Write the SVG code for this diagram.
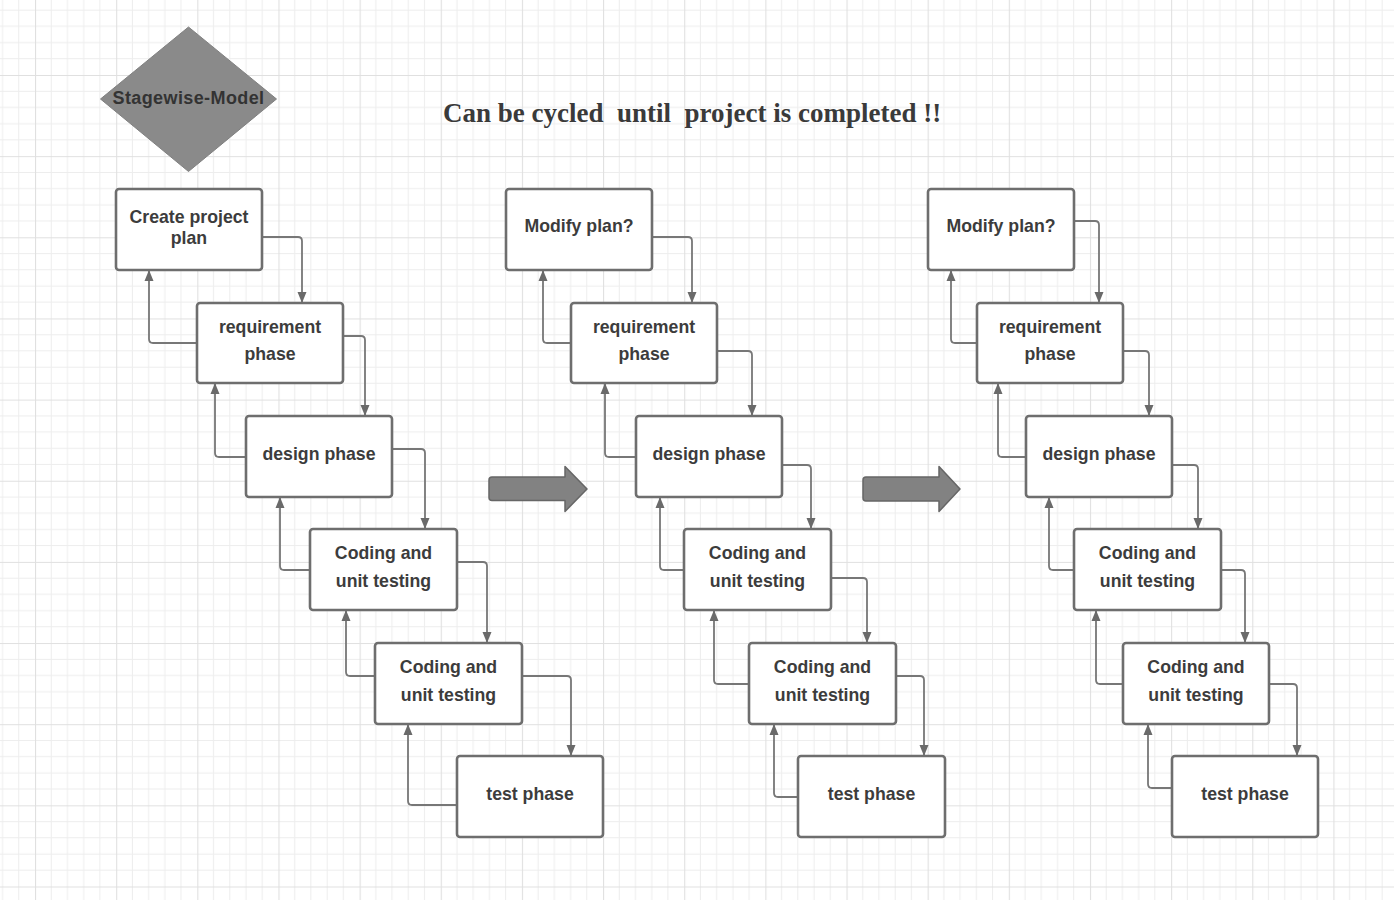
<svg xmlns="http://www.w3.org/2000/svg" width="1394" height="900" viewBox="0 0 1394 900">
<style>
.box{fill:#ffffff;stroke:#6e6e6e;stroke-width:2.6}
.lbl{font-family:"Liberation Sans",Arial,sans-serif;font-weight:bold;font-size:17.7px;fill:#3c3c3c;text-anchor:middle}
.con{fill:none;stroke:#777777;stroke-width:1.8}
.big{fill:#828282;stroke:#666666;stroke-width:1.5;stroke-linejoin:round}
</style>
<defs>
<pattern id="grid" patternUnits="userSpaceOnUse" x="35" y="75" width="81.15" height="81.15">
<g stroke="#ededed" stroke-width="1">
<line x1="16.23" y1="0" x2="16.23" y2="81.15"/>
<line x1="32.46" y1="0" x2="32.46" y2="81.15"/>
<line x1="48.69" y1="0" x2="48.69" y2="81.15"/>
<line x1="64.92" y1="0" x2="64.92" y2="81.15"/>
<line x1="0" y1="16.23" x2="81.15" y2="16.23"/>
<line x1="0" y1="32.46" x2="81.15" y2="32.46"/>
<line x1="0" y1="48.69" x2="81.15" y2="48.69"/>
<line x1="0" y1="64.92" x2="81.15" y2="64.92"/>
</g>
<g stroke="#e0e0e0" stroke-width="1.2">
<line x1="0.5" y1="0" x2="0.5" y2="81.15"/>
<line x1="0" y1="0.5" x2="81.15" y2="0.5"/>
</g>
</pattern>
<marker id="ah" markerUnits="userSpaceOnUse" markerWidth="12" markerHeight="12" viewBox="0 0 12 12" refX="11" refY="6" orient="auto">
<path d="M0,1.5 L11,6 L0,10.5 Z" fill="#6a6a6a"/>
</marker>
</defs>
<rect width="1394" height="900" fill="#ffffff"/>
<rect width="1394" height="900" fill="url(#grid)"/>

<g id="title">
<text x="443" y="122" xml:space="preserve" font-family="'Liberation Serif','Times New Roman',serif" font-weight="bold" font-size="27" fill="#3a3a3a">Can be cycled  until  project is completed !!</text>
</g>

<g id="stagewise-model">
<polygon points="188.5,27 276.5,99 188.5,171.5 100.5,99" fill="#8a8a8a" stroke="#808080" stroke-width="1" stroke-linejoin="round"/>
<text x="188.5" y="104" font-family="'Liberation Sans',Arial,sans-serif" font-weight="bold" font-size="18" letter-spacing="0.4" fill="#333333" text-anchor="middle">Stagewise-Model</text>
</g>

<g id="cycle-arrow-1"><path class="big" d="M492,477 H565 V466.5 L587,489 L565,511.5 V500.5 H492 Q489,500.5 489,497.5 V480 Q489,477 492,477 Z"/></g>
<g id="cycle-arrow-2"><path class="big" d="M866,477 H939 V466.5 L960,489 L939,511.5 V501 H866 Q863,501 863,498 V480 Q863,477 866,477 Z"/></g>

<g id="connectors">
<path class="con" marker-end="url(#ah)" d="M262,237 H298 Q302,237 302,241 V303"/>
<path class="con" marker-end="url(#ah)" d="M343,336 H361 Q365,336 365,340 V416"/>
<path class="con" marker-end="url(#ah)" d="M392,449 H421 Q425,449 425,453 V529"/>
<path class="con" marker-end="url(#ah)" d="M457,562 H483 Q487,562 487,566 V643"/>
<path class="con" marker-end="url(#ah)" d="M522,676 H567 Q571,676 571,680 V756"/>
<path class="con" marker-end="url(#ah)" d="M197,343 H153 Q149,343 149,339 V270"/>
<path class="con" marker-end="url(#ah)" d="M246,457 H219 Q215,457 215,453 V383"/>
<path class="con" marker-end="url(#ah)" d="M310,570 H284 Q280,570 280,566 V497"/>
<path class="con" marker-end="url(#ah)" d="M375,676 H350 Q346,676 346,672 V610"/>
<path class="con" marker-end="url(#ah)" d="M457,805 H412 Q408,805 408,801 V724"/>
<path class="con" marker-end="url(#ah)" d="M652,237 H688 Q692,237 692,241 V303"/>
<path class="con" marker-end="url(#ah)" d="M717,351 H748 Q752,351 752,355 V416"/>
<path class="con" marker-end="url(#ah)" d="M782,465 H807 Q811,465 811,469 V529"/>
<path class="con" marker-end="url(#ah)" d="M831,578 H863 Q867,578 867,582 V643"/>
<path class="con" marker-end="url(#ah)" d="M896,676 H920 Q924,676 924,680 V756"/>
<path class="con" marker-end="url(#ah)" d="M571,343 H547 Q543,343 543,339 V270"/>
<path class="con" marker-end="url(#ah)" d="M636,457 H609 Q605,457 605,453 V383"/>
<path class="con" marker-end="url(#ah)" d="M684,570 H664 Q660,570 660,566 V497"/>
<path class="con" marker-end="url(#ah)" d="M749,684 H718 Q714,684 714,680 V610"/>
<path class="con" marker-end="url(#ah)" d="M798,797 H778 Q774,797 774,793 V724"/>
<path class="con" marker-end="url(#ah)" d="M1074,221 H1095 Q1099,221 1099,225 V303"/>
<path class="con" marker-end="url(#ah)" d="M1123,351 H1145 Q1149,351 1149,355 V416"/>
<path class="con" marker-end="url(#ah)" d="M1172,465 H1194 Q1198,465 1198,469 V529"/>
<path class="con" marker-end="url(#ah)" d="M1221,570 H1241 Q1245,570 1245,574 V643"/>
<path class="con" marker-end="url(#ah)" d="M1269,684 H1293 Q1297,684 1297,688 V756"/>
<path class="con" marker-end="url(#ah)" d="M977,343 H955 Q951,343 951,339 V270"/>
<path class="con" marker-end="url(#ah)" d="M1026,457 H1002 Q998,457 998,453 V383"/>
<path class="con" marker-end="url(#ah)" d="M1074,570 H1053 Q1049,570 1049,566 V497"/>
<path class="con" marker-end="url(#ah)" d="M1123,684 H1100 Q1096,684 1096,680 V610"/>
<path class="con" marker-end="url(#ah)" d="M1172,788 H1152 Q1148,788 1148,784 V724"/>
</g>

<g id="c1-plan"><rect class="box" x="116" y="189" width="146" height="81" rx="3"/><text class="lbl" x="189" y="223">Create project</text><text class="lbl" x="189" y="244">plan</text></g>
<g id="c1-req"><rect class="box" x="197" y="303" width="146" height="80" rx="3"/><text class="lbl" x="270" y="333">requirement</text><text class="lbl" x="270" y="360">phase</text></g>
<g id="c1-design"><rect class="box" x="246" y="416" width="146" height="81" rx="3"/><text class="lbl" x="319" y="460">design phase</text></g>
<g id="c1-coding1"><rect class="box" x="310" y="529" width="147" height="81" rx="3"/><text class="lbl" x="383.5" y="559">Coding and</text><text class="lbl" x="383.5" y="587">unit testing</text></g>
<g id="c1-coding2"><rect class="box" x="375" y="643" width="147" height="81" rx="3"/><text class="lbl" x="448.5" y="673">Coding and</text><text class="lbl" x="448.5" y="701">unit testing</text></g>
<g id="c1-test"><rect class="box" x="457" y="756" width="146" height="81" rx="3"/><text class="lbl" x="530" y="800">test phase</text></g>

<g id="c2-plan"><rect class="box" x="506" y="189" width="146" height="81" rx="3"/><text class="lbl" x="579" y="232">Modify plan?</text></g>
<g id="c2-req"><rect class="box" x="571" y="303" width="146" height="80" rx="3"/><text class="lbl" x="644" y="333">requirement</text><text class="lbl" x="644" y="360">phase</text></g>
<g id="c2-design"><rect class="box" x="636" y="416" width="146" height="81" rx="3"/><text class="lbl" x="709" y="460">design phase</text></g>
<g id="c2-coding1"><rect class="box" x="684" y="529" width="147" height="81" rx="3"/><text class="lbl" x="757.5" y="559">Coding and</text><text class="lbl" x="757.5" y="587">unit testing</text></g>
<g id="c2-coding2"><rect class="box" x="749" y="643" width="147" height="81" rx="3"/><text class="lbl" x="822.5" y="673">Coding and</text><text class="lbl" x="822.5" y="701">unit testing</text></g>
<g id="c2-test"><rect class="box" x="798" y="756" width="147" height="81" rx="3"/><text class="lbl" x="871.5" y="800">test phase</text></g>

<g id="c3-plan"><rect class="box" x="928" y="189" width="146" height="81" rx="3"/><text class="lbl" x="1001" y="232">Modify plan?</text></g>
<g id="c3-req"><rect class="box" x="977" y="303" width="146" height="80" rx="3"/><text class="lbl" x="1050" y="333">requirement</text><text class="lbl" x="1050" y="360">phase</text></g>
<g id="c3-design"><rect class="box" x="1026" y="416" width="146" height="81" rx="3"/><text class="lbl" x="1099" y="460">design phase</text></g>
<g id="c3-coding1"><rect class="box" x="1074" y="529" width="147" height="81" rx="3"/><text class="lbl" x="1147.5" y="559">Coding and</text><text class="lbl" x="1147.5" y="587">unit testing</text></g>
<g id="c3-coding2"><rect class="box" x="1123" y="643" width="146" height="81" rx="3"/><text class="lbl" x="1196" y="673">Coding and</text><text class="lbl" x="1196" y="701">unit testing</text></g>
<g id="c3-test"><rect class="box" x="1172" y="756" width="146" height="81" rx="3"/><text class="lbl" x="1245" y="800">test phase</text></g>
</svg>
